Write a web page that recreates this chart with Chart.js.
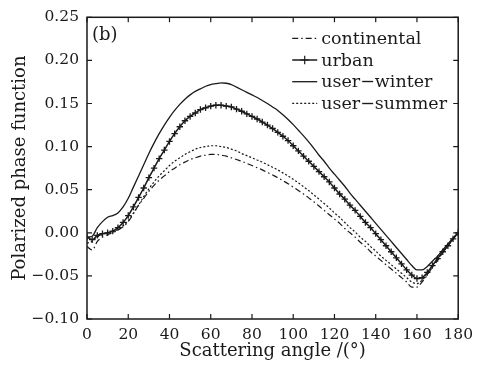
<!DOCTYPE html>
<html>
<head>
<meta charset="utf-8">
<script src="https://cdn.jsdelivr.net/npm/chart.js@4.4.0/dist/chart.umd.min.js"></script>
<style>
  body { margin: 0; background: #fff; }
  #chart { display: block; }
</style>
</head>
<body>
<canvas id="chart" width="480" height="367"></canvas>
<script>
// scattering angles (deg), every 2.5
const angles = [0, 2.5, 5, 7.5, 10, 12.5, 15, 17.5, 20, 22.5, 25, 27.5, 30, 32.5, 35, 37.5, 40, 42.5, 45, 47.5,
  50, 52.5, 55, 57.5, 60, 62.5, 65, 67.5, 70, 72.5, 75, 77.5, 80, 82.5, 85, 87.5, 90, 92.5, 95, 97.5,
  100, 102.5, 105, 107.5, 110, 112.5, 115, 117.5, 120, 122.5, 125, 127.5, 130, 132.5, 135, 137.5, 140, 142.5, 145, 147.5,
  150, 152.5, 155, 157.5, 160, 162.5, 165, 167.5, 170, 172.5, 175, 177.5, 180];

const continental = [-0.016, -0.020, -0.010, -0.005, -0.002, 0.000, 0.003, 0.007, 0.013, 0.022, 0.032, 0.040, 0.048, 0.055, 0.061, 0.066, 0.071, 0.075, 0.079, 0.082,
  0.085, 0.087, 0.089, 0.090, 0.091, 0.091, 0.090, 0.089, 0.087, 0.085, 0.083, 0.0805, 0.078, 0.0755, 0.073, 0.070, 0.067, 0.064, 0.0605, 0.057,
  0.053, 0.049, 0.045, 0.0405, 0.036, 0.031, 0.026, 0.021, 0.016, 0.011, 0.005, 0.000, -0.005, -0.011, -0.016, -0.022, -0.027, -0.032, -0.037, -0.042,
  -0.047, -0.052, -0.057, -0.063, -0.063, -0.057, -0.049, -0.040, -0.032, -0.023, -0.015, -0.007, 0.000];

const urban = [-0.005, -0.008, -0.003, -0.001, 0.000, 0.002, 0.006, 0.012, 0.020, 0.030, 0.041, 0.052, 0.064, 0.075, 0.086, 0.096, 0.106, 0.115, 0.123, 0.130,
  0.135, 0.139, 0.143, 0.145, 0.147, 0.148, 0.148, 0.147, 0.146, 0.1435, 0.141, 0.138, 0.135, 0.132, 0.1285, 0.125, 0.121, 0.1165, 0.112, 0.107,
  0.101, 0.095, 0.089, 0.083, 0.077, 0.071, 0.065, 0.059, 0.052, 0.045, 0.039, 0.032, 0.026, 0.019, 0.012, 0.006, -0.001, -0.008, -0.015, -0.022,
  -0.029, -0.036, -0.043, -0.049, -0.053, -0.052, -0.046, -0.038, -0.030, -0.022, -0.015, -0.007, 0.000];

const userWinter = [-0.005, -0.004, 0.006, 0.013, 0.018, 0.020, 0.023, 0.030, 0.040, 0.053, 0.066, 0.079, 0.092, 0.104, 0.115, 0.125, 0.134, 0.142, 0.149, 0.155,
  0.160, 0.164, 0.167, 0.170, 0.172, 0.173, 0.174, 0.1735, 0.172, 0.169, 0.166, 0.163, 0.160, 0.157, 0.1535, 0.150, 0.146, 0.142, 0.137, 0.1315,
  0.1255, 0.119, 0.1125, 0.1055, 0.098, 0.090, 0.083, 0.075, 0.068, 0.061, 0.054, 0.046, 0.039, 0.032, 0.025, 0.018, 0.011, 0.004, -0.003, -0.010,
  -0.017, -0.024, -0.031, -0.038, -0.043, -0.043, -0.039, -0.033, -0.027, -0.020, -0.013, -0.006, 0.000];

const userSummer = [-0.012, -0.010, -0.005, -0.002, 0.000, 0.001, 0.004, 0.008, 0.014, 0.023, 0.032, 0.042, 0.051, 0.059, 0.066, 0.072, 0.078, 0.083, 0.087, 0.091,
  0.094, 0.097, 0.099, 0.100, 0.101, 0.101, 0.100, 0.099, 0.097, 0.095, 0.092, 0.0895, 0.087, 0.0845, 0.082, 0.079, 0.076, 0.073, 0.0695, 0.066,
  0.062, 0.058, 0.0535, 0.049, 0.044, 0.039, 0.034, 0.029, 0.023, 0.018, 0.012, 0.006, 0.001, -0.005, -0.010, -0.016, -0.021, -0.027, -0.032, -0.037,
  -0.042, -0.047, -0.052, -0.057, -0.059, -0.055, -0.047, -0.039, -0.031, -0.023, -0.015, -0.007, 0.000];

const seriesLabels = ['continental', 'urban', 'user\u2212winter', 'user\u2212summer'];
const panelLabel = '(b)';

const serif = "'DejaVu Serif', 'Liberation Serif', serif";
const ink = '#1a1a1a';

const pairs = ys => angles.map((a, i) => ({ x: a, y: ys[i] }));

// box frame with inward ticks on all four sides
const framePlugin = {
  id: 'frame',
  afterDraw(chart) {
    const { ctx, chartArea: a, scales: { x, y } } = chart;
    const tl = 5;
    ctx.save();
    ctx.strokeStyle = ink;
    ctx.lineWidth = 1.5;
    ctx.strokeRect(a.left, a.top, a.right - a.left, a.bottom - a.top);
    ctx.lineWidth = 1.2;
    ctx.beginPath();
    x.ticks.forEach(t => {
      const px = x.getPixelForValue(t.value);
      ctx.moveTo(px, a.bottom); ctx.lineTo(px, a.bottom - tl);
      ctx.moveTo(px, a.top); ctx.lineTo(px, a.top + tl);
    });
    y.ticks.forEach(t => {
      const py = y.getPixelForValue(t.value);
      ctx.moveTo(a.left, py); ctx.lineTo(a.left + tl, py);
      ctx.moveTo(a.right, py); ctx.lineTo(a.right - tl, py);
    });
    ctx.stroke();

    // panel tag
    ctx.fillStyle = ink;
    ctx.font = '18px ' + serif;
    ctx.textBaseline = 'middle';
    ctx.textAlign = 'left';
    ctx.fillText(panelLabel, a.left + 5, a.top + 18);
    ctx.restore();
  }
};

// legend inside the plot, top right
const legendPlugin = {
  id: 'innerLegend',
  afterDraw(chart) {
    const { ctx, chartArea: a } = chart;
    const x0 = a.right - 166, x1 = a.right - 141, tx = a.right - 137;
    ctx.save();
    ctx.font = '17.5px ' + serif;
    ctx.textBaseline = 'middle';
    ctx.fillStyle = ink;
    chart.data.datasets.forEach((ds, i) => {
      const yy = a.top + 21 + i * 21.7;
      ctx.strokeStyle = ds.borderColor;
      ctx.lineWidth = ds.borderWidth;
      ctx.setLineDash(ds.borderDash || []);
      ctx.beginPath();
      ctx.moveTo(x0, yy); ctx.lineTo(x1, yy);
      ctx.stroke();
      ctx.setLineDash([]);
      if (ds.pointRadius > 0) {
        const cx = (x0 + x1) / 2, r = ds.pointRadius + 1;
        ctx.lineWidth = 1.2;
        ctx.beginPath();
        ctx.moveTo(cx - r, yy); ctx.lineTo(cx + r, yy);
        ctx.moveTo(cx, yy - r); ctx.lineTo(cx, yy + r);
        ctx.stroke();
      }
      ctx.fillText(ds.label, tx, yy + 1);
    });
    ctx.restore();
  }
};

document.addEventListener('DOMContentLoaded', () => {
  new Chart(document.getElementById('chart'), {
    type: 'line',
    data: {
      datasets: [
        {
          label: seriesLabels[0], data: pairs(continental),
          borderColor: ink, borderWidth: 1.2, borderDash: [6, 3, 1.5, 3],
          pointRadius: 0
        },
        {
          label: seriesLabels[1], data: pairs(urban),
          borderColor: ink, borderWidth: 1.5,
          pointStyle: 'cross', pointRadius: 3.2, pointBorderWidth: 1.3,
          pointBorderColor: ink
        },
        {
          label: seriesLabels[2], data: pairs(userWinter),
          borderColor: ink, borderWidth: 1.3,
          pointRadius: 0
        },
        {
          label: seriesLabels[3], data: pairs(userSummer),
          borderColor: ink, borderWidth: 1.2, borderDash: [2, 2],
          pointRadius: 0
        }
      ]
    },
    options: {
      responsive: false,
      animation: false,
      devicePixelRatio: 1,
      elements: { line: { cubicInterpolationMode: 'monotone' } },
      layout: { padding: { top: 15, right: 21, left: 0, bottom: 0 } },
      plugins: { legend: { display: false }, tooltip: { enabled: false } },
      scales: {
        x: {
          type: 'linear', min: 0, max: 180,
          grid: { display: false, drawTicks: false },
          border: { display: false },
          ticks: { stepSize: 20, padding: 7, color: ink, font: { family: serif, size: 15.5 } },
          title: {
            display: true, text: 'Scattering angle /(\u00b0)', color: ink,
            font: { family: serif, size: 18 }, padding: { top: 0, bottom: 5 }
          },
          afterFit: s => { s.height = 48; }
        },
        y: {
          min: -0.1, max: 0.25,
          grid: { display: false, drawTicks: false },
          border: { display: false },
          ticks: {
            stepSize: 0.05, padding: 8, color: ink, font: { family: serif, size: 15.5 },
            callback: v => (Math.abs(v) < 1e-9 ? 0 : v).toFixed(2).replace('-', '\u2212')
          },
          title: {
            display: true, text: 'Polarized phase function', color: ink,
            font: { family: serif, size: 18 }, padding: { top: 10, bottom: 0 }
          },
          afterFit: s => { s.width = 87; }
        }
      }
    },
    plugins: [framePlugin, legendPlugin]
  });
});
</script>
</body>
</html>
